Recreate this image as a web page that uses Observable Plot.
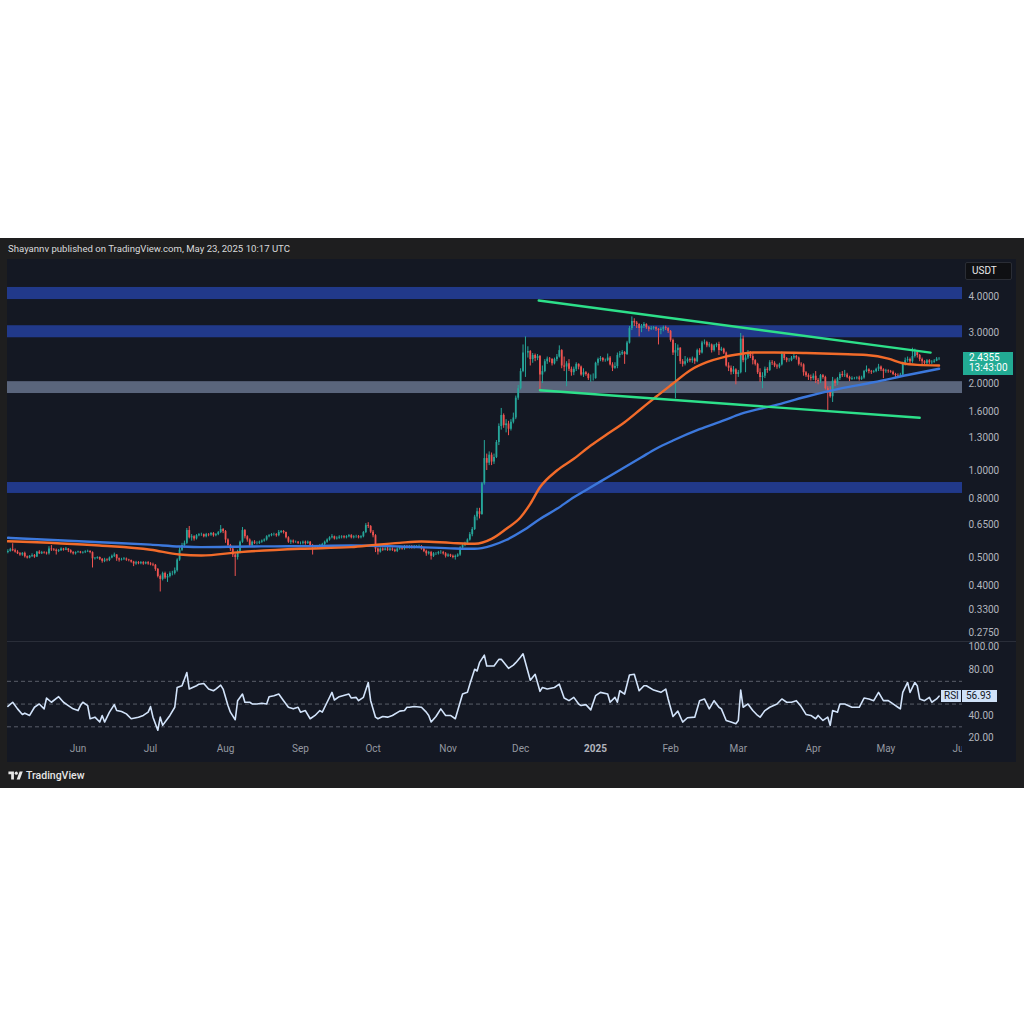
<!DOCTYPE html>
<html>
<head>
<meta charset="utf-8">
<script src="https://cdn.jsdelivr.net/npm/d3@7"></script>
<script src="https://cdn.jsdelivr.net/npm/@observablehq/plot@0.6"></script>
<style>
  html, body { margin: 0; padding: 0; background: #ffffff; }
  body { width: 1024px; height: 1024px; position: relative; overflow: hidden; font-family: Roboto, "Liberation Sans", sans-serif; }
  #frame { position: absolute; left: 0; top: 238px; width: 1024px; height: 550px; background: #1e1e1f; }
  #header { position: absolute; left: 8px; top: 243px; font-size: 9.6px; line-height: 12px; color: #d9dadc; white-space: nowrap; }
  #panel { position: absolute; left: 7px; top: 259px; width: 1009px; height: 503px; background: #141823; }
  #sep { position: absolute; left: 7px; top: 641px; width: 1009px; height: 1px; background: #2a2e39; }
  #price { position: absolute; left: 7px; top: 259px; }
  #rsi { position: absolute; left: 7px; top: 642px; }
  #usdt { position: absolute; left: 965px; top: 262px; width: 47px; height: 18px; background: #0f1013; border: 1px solid #2a2d35; box-sizing: border-box; border-radius: 2px; color: #e8e8ea; font-size: 10px; line-height: 16px; padding-left: 6px; }
  #pricebox { position: absolute; left: 963px; width: 50px; height: 23px; background: #22ab94; color: #ffffff; font-size: 10px; line-height: 10px; padding: 1px 0 0 6px; box-sizing: border-box; }
  .rsibox { position: absolute; height: 12px; background: #cfe1f8; color: #131722; font-size: 10px; line-height: 12px; box-sizing: border-box; }
  #logo { position: absolute; left: 8px; top: 769px; display: flex; align-items: center; gap: 3px; color: #e6e6e6; font-size: 10.5px; font-weight: 500; }
</style>
</head>
<body>
<div id="frame"></div>
<div id="header">Shayannv published on TradingView.com, May 23, 2025 10:17 UTC</div>
<div id="panel"></div>
<div id="price"></div>
<div id="sep"></div>
<div id="rsi"></div>
<div id="usdt">USDT</div>
<div id="logo"><svg width="15" height="11" viewBox="0 0 36 28"><path fill="#e6e6e6" d="M14 24H7V11H0V4h14v20zM29 24h-8l7.5-20h8L29 24z"/><circle fill="#e6e6e6" cx="20" cy="8" r="4"/></svg><span>TradingView</span></div>
<script>
// ---------------- DATA ----------------
const startDate = "2024-05-03";   // first daily candle
const firstOpen = 0.52;

// daily closes, May 3 2024 .. May 23 2025
const closes = [
  .525,.532,.528,.522,.515,.51,.517,.503,.498,.505,.508,.502,.522,.515,.52,.518,.515,.535,.532,.53,.525,.528,.535,.53,.535,.528,.52,.515,.52,
  .522,.518,.52,.523,.525,.52,.495,.497,.5,.493,.485,.49,.488,.498,.505,.51,.495,.49,.492,.494,.49,.488,.482,.475,.48,.476,.48,.475,.48,.475,
  .472,.47,.455,.43,.42,.44,.425,.43,.44,.44,.45,.49,.53,.55,.56,.62,.585,.59,.58,.595,.6,.6,.59,.6,.598,.605,.595,.6,.61,.625,.615,
  .575,.55,.535,.51,.5,.52,.565,.62,.59,.575,.55,.565,.56,.56,.565,.57,.575,.59,.595,.6,.6,.595,.61,.615,.61,.585,.565,.57,.565,.565,.56,
  .56,.565,.56,.565,.55,.54,.545,.545,.55,.555,.565,.575,.585,.59,.58,.583,.588,.59,.585,.59,.595,.585,.59,.59,.585,.59,.61,.645,.64,.612,
  .595,.535,.522,.535,.53,.535,.53,.535,.53,.525,.535,.54,.535,.545,.54,.545,.54,.545,.545,.545,.535,.525,.515,.52,.505,.515,.515,.52,.52,.515,.505,
  .51,.505,.5,.505,.51,.54,.55,.56,.575,.6,.625,.69,.72,.705,.9,1.1,1.06,1.13,1.07,1.11,1.25,1.42,1.55,1.43,1.45,1.39,1.47,1.52,1.78,1.92,
  2.2,2.55,2.55,2.58,2.42,2.5,2.44,2.48,2.14,2.2,2.38,2.43,2.42,2.34,2.42,2.47,2.6,2.3,2.28,2.34,2.24,2.18,2.24,2.33,2.28,2.14,2.18,2.15,2.08,2.08,2.08,
  2.35,2.42,2.44,2.4,2.4,2.45,2.32,2.26,2.29,2.5,2.53,2.56,2.52,2.76,3.1,3.28,3.24,3.2,3.1,3.15,3.2,3.12,3.08,3.1,3.12,3.08,3.05,3.08,3.12,3.1,3.03,
  2.82,2.55,2.6,2.65,2.38,2.33,2.38,2.42,2.4,2.43,2.38,2.6,2.55,2.76,2.77,2.7,2.72,2.6,2.7,2.73,2.6,2.63,2.55,2.3,2.26,2.19,2.23,2.15,
  2.18,2.85,2.4,2.45,2.55,2.48,2.4,2.33,2.18,2.1,2.12,2.24,2.22,2.36,2.35,2.3,2.28,2.32,2.52,2.44,2.4,2.4,2.45,2.48,2.45,2.33,2.32,2.18,2.13,2.1,2.08,
  2.12,2.05,2.03,2.13,2.1,1.92,1.87,1.8,2.04,2.0,2.08,2.15,2.13,2.14,2.1,2.07,2.08,2.08,2.09,2.07,2.09,2.2,2.23,2.2,2.19,2.2,2.24,2.28,2.23,2.2,
  2.21,2.2,2.19,2.15,2.13,2.12,2.14,2.34,2.4,2.42,2.38,2.48,2.56,2.5,2.42,2.38,2.35,2.4,2.36,2.37,2.39,2.43,2.4355
];
const highs = [
  .532,.538,.558,.535,.528,.52,.52,.522,.506,.508,.515,.512,.525,.528,.525,.524,.522,.545,.55,.537,.535,.533,.54,.538,.542,.537,.532,.524,.523,
  .526,.525,.524,.528,.53,.528,.523,.5,.503,.502,.496,.497,.495,.502,.51,.518,.512,.498,.497,.5,.498,.493,.49,.485,.485,.484,.484,.484,.483,.484,
  .48,.478,.473,.458,.435,.445,.445,.437,.446,.448,.46,.495,.54,.56,.57,.63,.64,.6,.595,.6,.605,.607,.603,.606,.605,.61,.61,.605,.615,.645,.63,
  .62,.58,.555,.54,.515,.53,.57,.635,.625,.595,.58,.57,.572,.567,.57,.575,.58,.595,.6,.605,.607,.605,.62,.62,.62,.612,.59,.575,.575,.57,.568,
  .566,.57,.57,.57,.568,.555,.55,.55,.555,.56,.57,.58,.59,.6,.593,.59,.595,.595,.595,.595,.6,.6,.595,.597,.596,.595,.615,.655,.66,.645,
  .62,.6,.54,.54,.54,.54,.545,.54,.54,.535,.54,.545,.545,.55,.55,.55,.55,.55,.55,.552,.55,.54,.53,.525,.525,.52,.52,.525,.528,.525,.52,
  .515,.513,.51,.51,.515,.545,.555,.565,.58,.61,.635,.7,.74,.74,.91,1.27,1.14,1.16,1.15,1.14,1.27,1.45,1.64,1.57,1.5,1.48,1.5,1.58,1.81,1.97,
  2.25,2.72,2.9,2.68,2.6,2.54,2.53,2.52,2.5,2.3,2.42,2.47,2.46,2.44,2.45,2.52,2.7,2.62,2.47,2.38,2.42,2.28,2.28,2.36,2.34,2.3,2.25,2.2,2.17,2.14,2.16,
  2.37,2.45,2.48,2.46,2.43,2.53,2.48,2.36,2.36,2.55,2.58,2.6,2.58,2.8,3.15,3.4,3.35,3.28,3.22,3.2,3.25,3.22,3.15,3.15,3.15,3.14,3.1,3.12,3.16,3.16,3.12,
  3.05,2.85,2.75,2.72,2.66,2.42,2.48,2.45,2.45,2.47,2.45,2.63,2.64,2.8,2.83,2.8,2.77,2.74,2.73,2.76,2.78,2.67,2.65,2.57,2.36,2.3,2.29,2.25,
  2.22,2.98,2.92,2.5,2.6,2.58,2.55,2.42,2.35,2.25,2.18,2.28,2.27,2.4,2.4,2.38,2.33,2.35,2.57,2.56,2.46,2.44,2.48,2.52,2.5,2.47,2.36,2.34,2.2,2.16,2.14,
  2.16,2.2,2.08,2.15,2.15,2.12,1.95,1.95,2.1,2.07,2.1,2.18,2.2,2.22,2.17,2.12,2.11,2.1,2.11,2.12,2.12,2.22,2.3,2.25,2.22,2.22,2.26,2.33,2.3,2.25,
  2.24,2.23,2.22,2.21,2.17,2.16,2.17,2.37,2.45,2.47,2.45,2.65,2.63,2.6,2.52,2.45,2.4,2.42,2.42,2.4,2.42,2.46,2.46
];
const lows = [
  .515,.522,.524,.518,.512,.505,.505,.498,.494,.495,.5,.497,.5,.512,.512,.514,.51,.51,.525,.525,.51,.52,.525,.526,.528,.52,.515,.51,.51,
  .517,.515,.514,.516,.52,.515,.46,.49,.493,.488,.478,.48,.483,.484,.495,.5,.485,.482,.486,.488,.485,.483,.478,.465,.47,.472,.472,.47,.472,.47,
  .468,.465,.448,.425,.38,.415,.42,.41,.425,.432,.435,.445,.485,.525,.54,.555,.58,.57,.57,.575,.59,.592,.585,.585,.59,.592,.588,.59,.595,.605,.605,
  .56,.54,.525,.5,.43,.49,.515,.56,.58,.565,.545,.545,.555,.553,.555,.56,.565,.57,.585,.59,.593,.588,.59,.605,.603,.58,.56,.555,.558,.56,.555,
  .553,.553,.552,.555,.545,.51,.535,.538,.54,.545,.55,.56,.57,.58,.575,.575,.578,.58,.58,.58,.585,.58,.58,.583,.58,.58,.585,.605,.63,.605,
  .585,.52,.51,.518,.525,.527,.525,.525,.525,.52,.52,.53,.53,.53,.535,.535,.535,.535,.54,.538,.53,.52,.505,.51,.49,.5,.508,.51,.513,.51,.498,
  .5,.5,.495,.49,.5,.505,.53,.545,.555,.57,.59,.62,.67,.68,.7,.89,1.0,1.04,1.04,1.05,1.1,1.22,1.38,1.4,1.35,1.32,1.37,1.45,1.5,1.75,
  1.9,2.18,2.1,2.45,2.3,2.35,2.38,2.4,1.9,2.0,2.18,2.33,2.36,2.3,2.32,2.38,2.45,2.25,2.2,1.95,2.2,2.12,2.13,2.2,2.23,2.12,2.1,2.12,2.05,2.02,2.04,
  2.07,2.3,2.38,2.37,2.37,2.38,2.3,2.2,2.24,2.25,2.45,2.5,2.33,2.5,2.74,3.05,3.15,3.1,2.9,3.0,3.1,3.08,3.02,3.05,3.06,3.03,2.72,2.95,3.02,3.05,2.98,
  2.78,2.5,1.77,2.48,2.33,2.28,2.3,2.35,2.36,2.35,2.33,2.36,2.5,2.53,2.72,2.66,2.66,2.55,2.57,2.66,2.5,2.58,2.52,2.28,2.2,2.14,2.15,1.98,
  2.1,2.16,2.36,2.18,2.42,2.44,2.32,2.3,2.15,2.02,1.92,2.08,2.17,2.2,2.31,2.27,2.24,2.25,2.3,2.4,2.36,2.37,2.38,2.42,2.41,2.3,2.28,2.12,2.1,2.05,2.04,
  2.05,2.0,1.98,2.0,2.07,1.9,1.61,1.78,1.72,1.95,1.97,2.05,2.1,2.1,2.08,2.03,2.05,2.06,2.06,2.04,2.05,2.07,2.18,2.16,2.15,2.17,2.18,2.2,2.2,2.08,
  2.17,2.17,2.17,2.13,2.08,2.09,2.1,2.12,2.3,2.37,2.33,2.35,2.45,2.45,2.38,2.32,2.32,2.3,2.33,2.33,2.35,2.38,2.4
];

// moving averages (day index from startDate, value)
const maFastDays   = [0,38,59,71,80,96,121,142,152,162,171,183,193,200,206,212,216,220,227,234,241,248,255,262,268,275,282,289,296,303,308,317,330,344,355,364,370,376,385];
const maFastValues = [.569,.55,.532,.512,.508,.522,.536,.543,.553,.562,.568,.562,.558,.58,.628,.689,.767,.875,1.0,1.098,1.22,1.34,1.47,1.64,1.8,2.0,2.22,2.37,2.47,2.53,2.56,2.56,2.55,2.53,2.51,2.44,2.35,2.32,2.31];
const maSlowDays   = [0,38,59,71,80,100,121,142,162,183,193,200,206,213,220,227,234,241,248,255,262,268,275,286,296,303,317,330,344,358,372,385];
const maSlowValues = [.585,.565,.554,.546,.543,.546,.547,.55,.546,.538,.536,.55,.575,.62,.68,.737,.808,.875,.948,1.027,1.112,1.19,1.27,1.39,1.49,1.57,1.68,1.8,1.92,2.02,2.14,2.25];

// horizontal zones
const zoneLows  = [3.905, 2.88, 1.847, 0.833];
const zoneHighs = [4.30, 3.17, 2.03, 0.909];
const zoneKinds = ["blue", "blue", "grey", "blue"];

// triangle trend lines
const upperLineDates  = ["2024-12-08T12:00:00Z", "2025-05-19T12:00:00Z"];
const upperLineValues = [3.875, 2.558];
const lowerLineDates  = ["2024-12-09T00:00:00Z", "2025-05-15T00:00:00Z"];
const lowerLineValues = [1.896, 1.522];

// RSI (day index, value)
const rsiDays = [0,2,4,6,7,9,11,13,15,16,18,21,23,25,27,29,30,31,33,34,36,38,39,40,42,44,45,47,49,51,54,56,58,59,60,62,63,64,66,67,69,70,72,73,74,75,78,79,81,83,85,86,88,89,91,92,94,95,97,98,100,101,103,105,107,108,110,112,114,116,118,120,121,123,125,127,129,130,132,134,135,137,141,142,144,145,147,149,150,152,153,155,157,159,162,164,165,166,168,171,173,174,175,177,179,181,183,185,186,188,190,191,193,194,195,197,198,201,203,204,207,209,210,212,213,216,218,220,221,223,226,228,230,232,234,236,237,239,241,243,245,248,249,251,252,253,255,257,259,261,263,264,267,270,272,273,275,277,279,281,284,286,288,290,292,294,295,297,299,301,302,303,304,306,308,310,311,313,315,318,320,322,324,326,328,330,332,334,335,337,339,340,341,343,344,346,349,352,354,356,358,360,362,364,366,368,369,370,372,373,375,376,377,379,381,382,384,385];
const rsiValues = [48,51.6,45.8,40.9,42,40,47.2,50.1,45.8,55.3,51.6,56.5,51.6,48.7,45.8,44.3,48.7,51.6,48.7,37.1,38.5,34.2,40,34.2,42.9,49.5,44.3,43.5,41.4,37.1,38.5,40,42.9,47.8,38.5,27,38.5,31.3,37.1,40,47.2,64.6,66.1,71.9,77.7,63.2,66.1,67.5,68.1,63.2,61.7,63.2,66.6,63.2,48.7,42.9,36.2,53,58.8,51.6,51.6,50.1,50.1,50.7,50.1,56.5,57.4,58.8,53,47.2,45.8,47.2,42.9,44.3,37.1,40,44.3,42.9,51.6,60.3,53.6,56.5,58.8,55.3,55.9,53,55.9,69,53,38.5,37.1,39.1,38.5,40,43.8,44.3,47.2,47.2,47.8,47.2,42.9,40,34.2,39.1,45.8,40,40,37.1,44.3,58.8,60.3,67.5,80.6,79.1,86.4,93,83.5,83.5,89.3,89.3,81.4,84.3,86.4,91.3,94.2,71,76.2,61.2,64.6,63.2,64.6,67.5,55.3,53,55.9,50.1,48.7,49.5,44.9,57.4,60.3,58.8,51.6,55.9,51.6,61.7,58.8,75.6,76.2,61.7,66.1,66.1,62.3,60.3,63.2,54.5,39.1,43.8,34.2,38,38.5,53,54.5,45.8,53,47.2,45.8,35.6,34.2,32.7,35.6,62.3,47.2,50.1,44.3,40,38.5,44.3,47.2,50.1,54.5,51.6,51.6,53,47.8,40.9,40,37.1,40,35.6,38.5,31.3,44.3,42.9,50.1,50.1,47.2,47.2,55.3,54.5,53,60.3,53,53,50.1,47.2,45.8,60.3,69,60.3,69,66.1,54.5,53,55.9,51.6,54.5,56.93];
const rsiLast = 56.93;

// axis ticks
const priceTicks = [4, 3, 2, 1.6, 1.3, 1, 0.8, 0.65, 0.5, 0.4, 0.33, 0.275];
const rsiTicks = [100, 80, 40, 20];
const rsiLevels = [70, 50, 30];
const timeTickDates  = ["2024-06-01","2024-07-01","2024-08-01","2024-09-01","2024-10-01","2024-11-01","2024-12-01","2025-01-01","2025-02-01","2025-03-01","2025-04-01","2025-05-01","2025-06-01"];
const timeTickLabels = ["Jun","Jul","Aug","Sep","Oct","Nov","Dec","2025","Feb","Mar","Apr","May","Jun"];
const timeTickBold   = [false,false,false,false,false,false,false,true,false,false,false,false,false];

// ---------------- BUILD ----------------
const UP = "#26a69a", DOWN = "#ef5350";
const t0 = new Date(startDate + "T00:00:00Z");
const day = i => d3.utcDay.offset(t0, i);
const candles = closes.map((c, i) => {
  const o = i === 0 ? firstOpen : closes[i - 1];
  return { date: day(i), open: o, close: c, high: highs[i], low: lows[i], color: c >= o ? UP : DOWN };
});
const maFast = maFastDays.map((d, i) => ({ date: day(d), value: maFastValues[i] }));
const maSlow = maSlowDays.map((d, i) => ({ date: day(d), value: maSlowValues[i] }));
const zoneFill = { blue: "#21398a", grey: "#5a657c" };
const zones = zoneLows.map((lo, i) => ({ lo, hi: zoneHighs[i], fill: zoneFill[zoneKinds[i]] }));
const upperLine = upperLineDates.map((s, i) => ({ date: new Date(s), value: upperLineValues[i] }));
const lowerLine = lowerLineDates.map((s, i) => ({ date: new Date(s), value: lowerLineValues[i] }));
const rsi = rsiDays.map((d, i) => ({ date: day(d), value: rsiValues[i] }));
const timeTicks = timeTickDates.map((s, i) => ({ date: new Date(s + "T00:00:00Z"), label: timeTickLabels[i], bold: timeTickBold[i] }));

const dayMs = 864e5;
const xDomain = [new Date(+t0 - 0.15 * dayMs), new Date(+t0 + 394.7 * dayMs)];
const W = 1009, MR = 54;
const baseStyle = { background: "transparent", color: "#b2b5be", fontFamily: "Roboto, sans-serif", fontSize: "10px" };

const price = Plot.plot({
  width: W, height: 382,
  marginLeft: 0, marginRight: MR, marginTop: 0, marginBottom: 0,
  style: baseStyle,
  x: { type: "utc", domain: xDomain, axis: null },
  y: { type: "log", domain: [0.2561, 5.373], axis: null },
  color: { type: "identity" },
  marks: [
    Plot.rect(zones, { x1: () => xDomain[0], x2: () => xDomain[1], y1: "lo", y2: "hi", fill: "fill" }),
    Plot.ruleX(candles, { x: "date", y1: "low", y2: "high", stroke: "color", strokeWidth: 1 }),
    Plot.ruleX(candles, { x: "date", y1: "open", y2: "close", stroke: "color", strokeWidth: 1.8 }),
    Plot.line(maSlow, { x: "date", y: "value", stroke: "#3c78dc", strokeWidth: 2.4, curve: "monotone-x" }),
    Plot.line(maFast, { x: "date", y: "value", stroke: "#f26b2a", strokeWidth: 2.4, curve: "monotone-x" }),
    Plot.line(upperLine, { x: "date", y: "value", stroke: "#2de08a", strokeWidth: 2.4 }),
    Plot.line(lowerLine, { x: "date", y: "value", stroke: "#2de08a", strokeWidth: 2.4 }),
    Plot.axisY({ anchor: "right", label: null, ticks: priceTicks, tickFormat: d => d.toFixed(4), tickSize: 0, tickPadding: 6, fontSize: 10, fill: "#b2b5be" })
  ]
});
document.getElementById("price").appendChild(price);

const rsiPlot = Plot.plot({
  width: W, height: 120,
  marginLeft: 0, marginRight: MR, marginTop: 0, marginBottom: 0,
  style: baseStyle,
  x: { type: "utc", domain: xDomain, axis: null },
  y: { domain: [-1.36, 104.13], axis: null },
  marks: [
    Plot.ruleY(rsiLevels, { stroke: "#5a5e69", strokeWidth: 1, strokeDasharray: "4,3" }),
    Plot.line(rsi, { x: "date", y: "value", stroke: "#d2e3fa", strokeWidth: 1.6 }),
    Plot.axisY({ anchor: "right", label: null, ticks: rsiTicks, tickFormat: d => d.toFixed(2), tickSize: 0, tickPadding: 6, fontSize: 10, fill: "#b2b5be" }),
    Plot.text(timeTicks.filter(d => !d.bold), { x: "date", text: "label", frameAnchor: "bottom", dy: -11, fill: "#9598a1", fontSize: 10, clip: true }),
    Plot.text(timeTicks.filter(d => d.bold), { x: "date", text: "label", frameAnchor: "bottom", dy: -11, fill: "#b2b5be", fontSize: 10, fontWeight: "bold", clip: true })
  ]
});
document.getElementById("rsi").appendChild(rsiPlot);

// price label on the axis
const lastClose = closes[closes.length - 1];
const py = price.scale("y").apply(lastClose);
const pb = document.createElement("div");
pb.id = "pricebox";
pb.style.top = (259 + py - 6.6) + "px";
pb.innerHTML = "<div>" + lastClose.toFixed(4) + "</div><div>13:43:00</div>";
document.body.appendChild(pb);

// RSI label
const ry = rsiPlot.scale("y").apply(rsiLast);
const rb1 = document.createElement("div");
rb1.className = "rsibox";
rb1.style.left = "941px"; rb1.style.width = "20px"; rb1.style.top = (642 + ry - 6) + "px";
rb1.style.paddingLeft = "3px";
rb1.textContent = "RSI";
const rb2 = document.createElement("div");
rb2.className = "rsibox";
rb2.style.left = "962px"; rb2.style.width = "35px"; rb2.style.top = (642 + ry - 6) + "px";
rb2.style.paddingLeft = "4px";
rb2.textContent = rsiLast.toFixed(2);
document.body.appendChild(rb1);
document.body.appendChild(rb2);
</script>
</body>
</html>
